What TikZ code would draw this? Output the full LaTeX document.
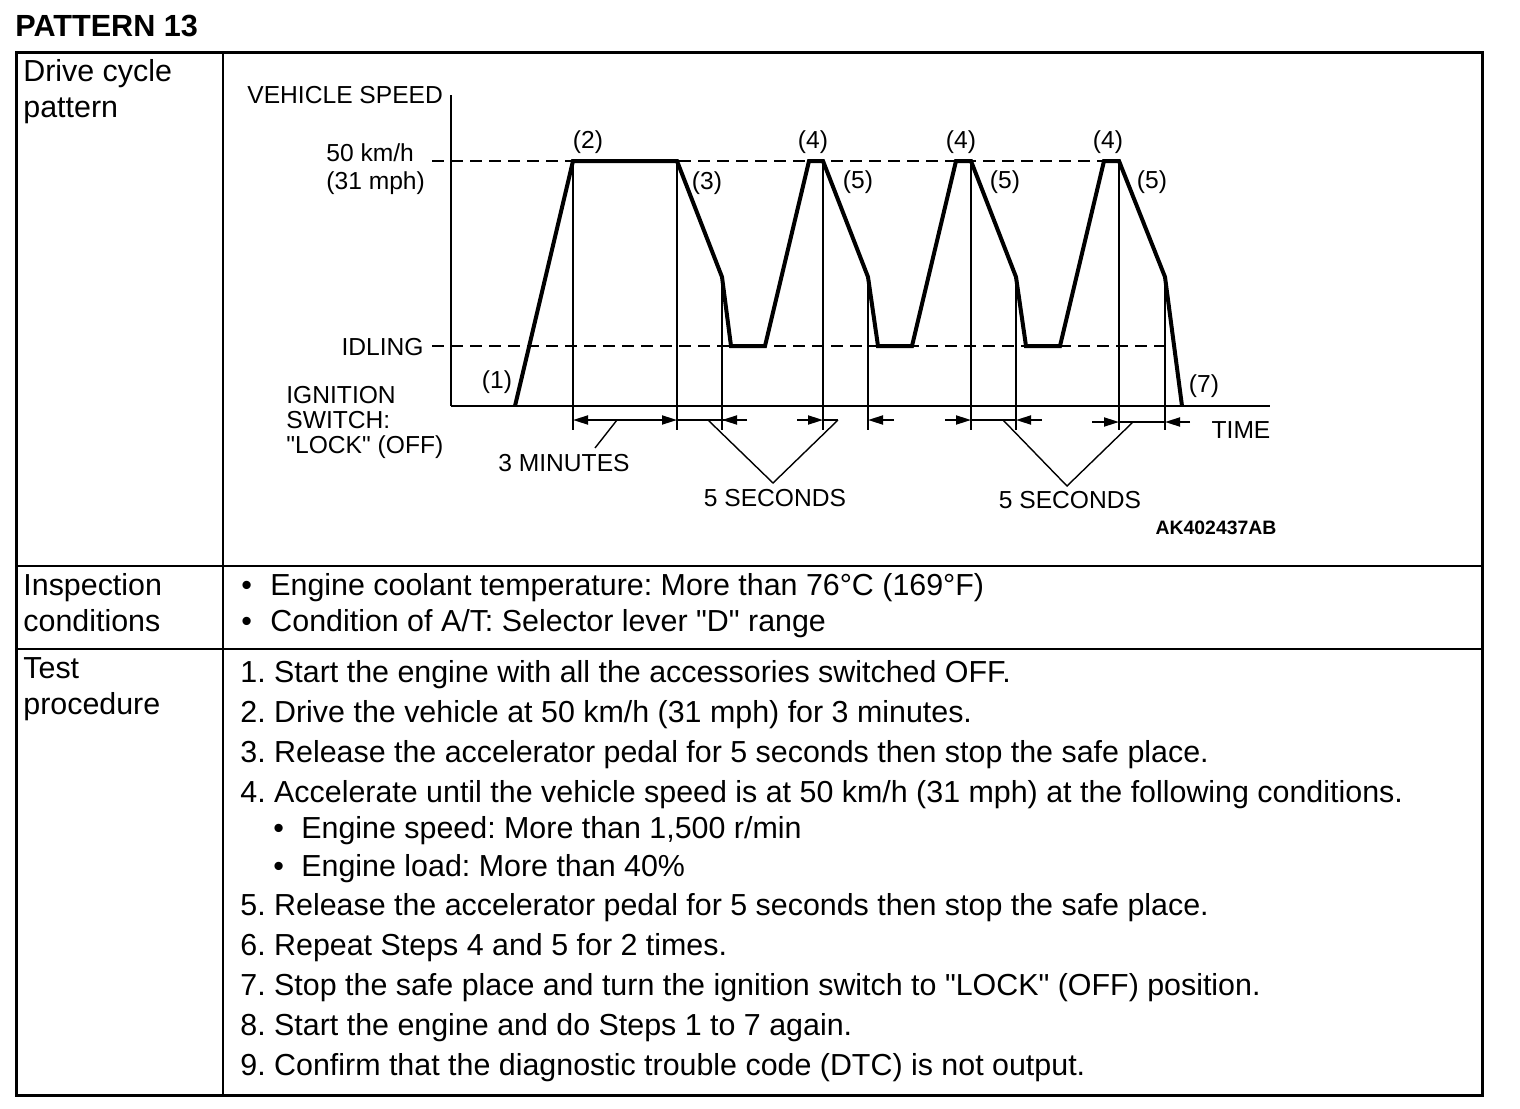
\documentclass[tikz,border=0pt]{standalone}
\usepackage{fontspec}
\setmainfont{Liberation Sans}[Ligatures=TeXOff]
\usetikzlibrary{arrows.meta}
\frenchspacing

\begin{document}
\begin{tikzpicture}[x=0.5pt,y=-0.5pt,
  lbl/.style={font=\fontsize{12.3}{14}\selectfont,inner sep=0pt},
  txt/.style={font=\fontsize{15.2}{18}\selectfont,inner sep=0pt,anchor=base west},
  dim/.style={line width=0.9pt,-{Triangle[length=7.5pt,width=4.5pt]}},
  lead/.style={line width=0.7pt}]
\useasboundingbox (0,0) rectangle (1520,1108);

% table
\node[anchor=west,inner sep=0pt,font=\bfseries\fontsize{15.3}{18}\selectfont] (title) at (15,26) {PATTERN 13};
\draw[line width=1.5pt] (16,52) rectangle (1482,1095);
\draw[line width=1.25pt] (223,52) -- (223,1095);
\draw[line width=1pt] (16,566) -- (1482,566);
\draw[line width=1pt] (16,649) -- (1482,649);

\node[txt] (hdA) at (23,81) {Drive cycle};
\node[txt] (hdB) at (23,117) {pattern};
\node[txt] (hdC) at (23,595) {Inspection};
\node[txt] (hdD) at (23,631) {conditions};
\node[txt] (hdE) at (23,678) {Test};
\node[txt] (hdF) at (23,714) {procedure};

% inspection conditions
\node[txt] (bulA) at (241,595) {•};
\node[txt] (condA) at (270,595) {Engine coolant temperature: More than 76°C (169°F)};
\node[txt] (bulB) at (241,631) {•};
\node[txt] (condB) at (270,631) {Condition of A/T: Selector lever "D" range};

% test procedure
\node[txt] (stepA) at (240,682) {1. Start the engine with all the accessories switched OFF.};
\node[txt] (stepB) at (240,722) {2. Drive the vehicle at 50 km/h (31 mph) for 3 minutes.};
\node[txt] (stepC) at (240,762) {3. Release the accelerator pedal for 5 seconds then stop the safe place.};
\node[txt] (stepD) at (240,802) {4. Accelerate until the vehicle speed is at 50 km/h (31 mph) at the following conditions.};
\node[txt] (bulC) at (273,838) {•};
\node[txt] (subA) at (301,838) {Engine speed: More than 1,500 r/min};
\node[txt] (bulD) at (273,876) {•};
\node[txt] (subB) at (301,876) {Engine load: More than 40\%};
\node[txt] (stepE) at (240,915) {5. Release the accelerator pedal for 5 seconds then stop the safe place.};
\node[txt] (stepF) at (240,955) {6. Repeat Steps 4 and 5 for 2 times.};
\node[txt] (stepG) at (240,995) {7. Stop the safe place and turn the ignition switch to "LOCK" (OFF) position.};
\node[txt] (stepH) at (240,1035) {8. Start the engine and do Steps 1 to 7 again.};
\node[txt] (stepI) at (240,1075) {9. Confirm that the diagnostic trouble code (DTC) is not output.};

% drive cycle chart
\draw[line width=0.9pt,dash pattern=on 6pt off 3.5pt] (432,161) -- (1119,161);
\draw[line width=0.9pt,dash pattern=on 6pt off 3.5pt] (432,346) -- (1172,346);
\draw[line width=0.8pt] (451,95) -- (451,406);
\draw[line width=1pt] (451,406) -- (1270,406);
\foreach \x/\y in {573/161,677/161,722/277,823/161,868/277,971/161,1016/277,1119/161,1165/277}
  \draw[line width=0.9pt] (\x,\y) -- (\x,430);
\draw[line width=2pt,line join=miter] (515,406) -- (573,161) -- (677,161) -- (722,277) -- (731,346) -- (765,346)
  -- (809,161) -- (823,161) -- (868,277) -- (878,346) -- (912,346)
  -- (956,161) -- (971,161) -- (1016,277) -- (1026,346) -- (1060,346)
  -- (1104,161) -- (1119,161) -- (1165,277) -- (1182,406);

% time spans
\draw[dim] (625,420) -- (573,420);
\draw[dim] (625,420) -- (677,420);
\draw[line width=0.9pt] (677,420) -- (747,420);
\draw[dim] (747,420) -- (722,420);
\draw[dim] (797,420) -- (823,420);
\draw[line width=0.9pt] (823,420) -- (838,420);
\draw[dim] (894,420) -- (868,420);
\draw[dim] (945,420) -- (971,420);
\draw[line width=0.9pt] (971,420) -- (1016,420);
\draw[dim] (1042,420) -- (1016,420);
\draw[dim] (1092,422) -- (1119,422);
\draw[line width=0.9pt] (1119,422) -- (1165,422);
\draw[dim] (1190,422) -- (1165,422);

\draw[lead] (617,420) -- (595,448);
\draw[lead] (708,420) -- (773,483) -- (838,420);
\draw[lead] (1003,420) -- (1067,486) -- (1133,422);

% labels
\node[lbl,anchor=base west] (vs) at (247,103) {VEHICLE SPEED};
\node[lbl,anchor=base west] (spA) at (326,161) {50 km/h};
\node[lbl,anchor=base west] (spB) at (326,189) {(31 mph)};
\node[lbl,anchor=base east] (idl) at (424,355) {IDLING};
\node[lbl,anchor=base west] (ignA) at (286,403) {IGNITION};
\node[lbl,anchor=base west] (ignB) at (286,428) {SWITCH:};
\node[lbl,anchor=base west] (ignC) at (286,453) {"LOCK" (OFF)};
\node[lbl] (pA) at (497,382) {(1)};
\node[lbl] (pB) at (588,142) {(2)};
\node[lbl] (pC) at (707,183) {(3)};
\foreach \x [count=\i] in {813,961,1108} \node[lbl] (pD\i) at (\x,142) {(4)};
\foreach \x [count=\i] in {858,1005,1152} \node[lbl] (pE\i) at (\x,182) {(5)};
\node[lbl] (pG) at (1204,386) {(7)};
\node[lbl] (time) at (1241,430) {TIME};
\node[lbl] (min) at (564,463) {3 MINUTES};
\node[lbl] (secA) at (775,498) {5 SECONDS};
\node[lbl] (secB) at (1070,500) {5 SECONDS};
\node[inner sep=0pt,font=\bfseries\fontsize{9.7}{11}\selectfont] (code) at (1216,528) {AK402437AB};
\end{tikzpicture}
\end{document}
